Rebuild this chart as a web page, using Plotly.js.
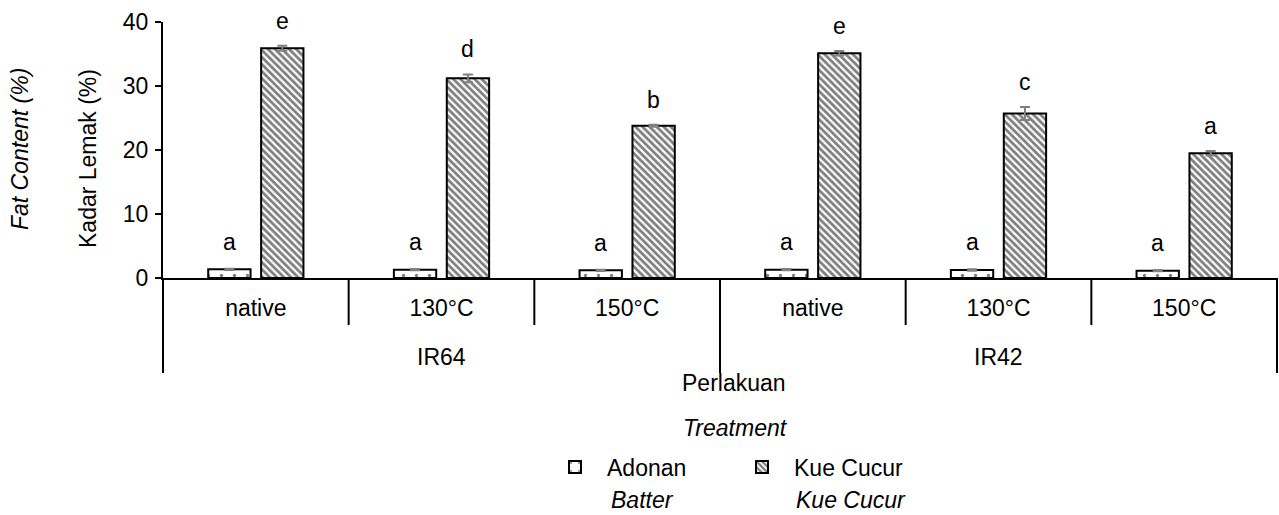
<!DOCTYPE html>
<html>
<head>
<meta charset="utf-8">
<script src="https://cdn.plot.ly/plotly-3.0.1.min.js"></script>
<style>html,body{margin:0;padding:0;background:#fff}#chart{width:1279px;height:515px}</style>
</head>
<body>
<div id="chart"></div>
<script>
// ---- data ----
const varieties = ['IR64', 'IR42'];
const treatments = ['native', '130°C', '150°C'];
const adonan = [1.35, 1.3, 1.2, 1.3, 1.25, 1.15];
const adonanErr = [0.1, 0.1, 0.1, 0.1, 0.1, 0.1];
const kueCucur = [35.9, 31.2, 23.8, 35.1, 25.7, 19.5];
const kueCucurErr = [0.4, 0.6, 0.15, 0.35, 1.0, 0.35];
const adonanLetters = ['a', 'a', 'a', 'a', 'a', 'a'];
const kueCucurLetters = ['e', 'd', 'b', 'e', 'c', 'a'];
const yTicks = [0, 10, 20, 30, 40];

// ---- build ----
const cats = [], tickLabels = [];
varieties.forEach(v => treatments.forEach(t => { cats.push(v + ' ' + t); tickLabels.push(t); }));

const FONT = 'Liberation Sans, Arial, sans-serif';
const FS = 23;
const TXT = '#000000';
const L = 163, R = 2, T = 22, B = 237;
const W = 1279, H = 515;
const plotW = W - L - R, plotH = H - T - B;
const BARGAP = 0.43;
const slotPx = plotW / cats.length * (1 - BARGAP) / 2;
const px2x = px => (px - L) / plotW;
const px2y = py => (H - B - py) / plotH;

const traces = [
  {
    type: 'bar', name: 'Adonan', x: cats, y: adonan,
    marker: { color: '#ffffff', line: { color: '#000', width: 2 },
      pattern: { shape: '.', size: 13, solidity: 0.05, fgcolor: '#000', bgcolor: '#fff', fillmode: 'overlay' } },
    error_y: { type: 'data', array: adonanErr, visible: true, color: '#808080', thickness: 2, width: 5 }
  },
  {
    type: 'bar', name: 'Kue Cucur', x: cats, y: kueCucur,
    marker: { color: '#ffffff', line: { color: '#000', width: 2 },
      pattern: { shape: '\\', size: 5, solidity: 0.55, fgcolor: '#000', bgcolor: '#fff', fillmode: 'overlay' } },
    error_y: { type: 'data', array: kueCucurErr, visible: true, color: '#808080', thickness: 2, width: 5 }
  }
];

const annotations = [];
cats.forEach((c, i) => {
  annotations.push({ x: c, y: adonan[i] + adonanErr[i], xref: 'x', yref: 'y', text: adonanLetters[i],
    showarrow: false, yanchor: 'bottom', xanchor: 'center', xshift: -slotPx / 2, yshift: 12,
    font: { family: FONT, size: FS, color: TXT } });
  annotations.push({ x: c, y: kueCucur[i] + kueCucurErr[i], xref: 'x', yref: 'y', text: kueCucurLetters[i],
    showarrow: false, yanchor: 'bottom', xanchor: 'center', xshift: slotPx / 2, yshift: 10,
    font: { family: FONT, size: FS, color: TXT } });
});
varieties.forEach((v, k) => {
  annotations.push({ x: (k + 0.5) / varieties.length, y: px2y(357), xref: 'paper', yref: 'paper', text: v,
    showarrow: false, xanchor: 'center', yanchor: 'middle', font: { family: FONT, size: FS, color: TXT } });
});
const txt = (t, x, y, xa, extra) => Object.assign({ x: x, y: y, xref: 'paper', yref: 'paper', text: t, showarrow: false,
  xanchor: xa, yanchor: 'middle', font: { family: FONT, size: FS, color: TXT } }, extra || {});
annotations.push(txt('Perlakuan', px2x(734), px2y(383), 'center'));
annotations.push(txt('<i>Treatment</i>', px2x(735), px2y(428), 'center'));
annotations.push(txt('<i>Batter</i>', px2x(609), px2y(500), 'left'));
annotations.push(txt('<i>Kue Cucur</i>', px2x(794), px2y(500), 'left'));
annotations.push(txt('Kadar Lemak (%)', px2x(88), px2y(159), 'center', { textangle: -90 }));
annotations.push(txt('<i>Fat Content (%)</i>', px2x(20), px2y(149), 'center', { textangle: -90 }));

const shapes = [];
const vline = (x, yb) => ({ type: 'line', xref: 'paper', yref: 'paper', x0: x, x1: x, y0: 0, y1: yb,
  line: { color: '#000', width: 2 } });
for (let k = 0; k <= cats.length; k++) {
  const full = (k % treatments.length === 0);
  shapes.push(vline(k / cats.length, full ? px2y(373) : px2y(325)));
}

const layout = {
  width: W, height: H,
  margin: { l: L, r: R, t: T, b: B, pad: 0 },
  paper_bgcolor: '#fff', plot_bgcolor: '#fff',
  barmode: 'group', bargap: BARGAP, bargroupgap: 0.2,
  showlegend: true,
  legend: { orientation: 'h', x: px2x(543), xanchor: 'left', y: px2y(467), yanchor: 'middle',
    itemwidth: 54, entrywidth: 118, entrywidthmode: 'pixels',
    font: { family: FONT, size: FS, color: TXT }, bgcolor: 'rgba(0,0,0,0)' },
  xaxis: {
    type: 'category', categoryorder: 'array', categoryarray: cats,
    tickvals: cats, ticktext: tickLabels, ticks: '', showline: true, linecolor: '#000', linewidth: 2,
    showgrid: false, zeroline: false, ticklabelstandoff: 8,
    tickfont: { family: FONT, size: FS, color: TXT }, fixedrange: true
  },
  yaxis: {
    range: [0, 40], tickvals: yTicks, ticks: 'outside', ticklen: 6, tickwidth: 2, tickcolor: '#000',
    showline: true, linecolor: '#000', linewidth: 2, showgrid: false, zeroline: false,
    tickfont: { family: FONT, size: FS, color: TXT }, ticklabelstandoff: 2, fixedrange: true
  },
  annotations: annotations,
  shapes: shapes
};

Plotly.newPlot('chart', traces, layout, { displayModeBar: false, staticPlot: true });
</script>
</body>
</html>
